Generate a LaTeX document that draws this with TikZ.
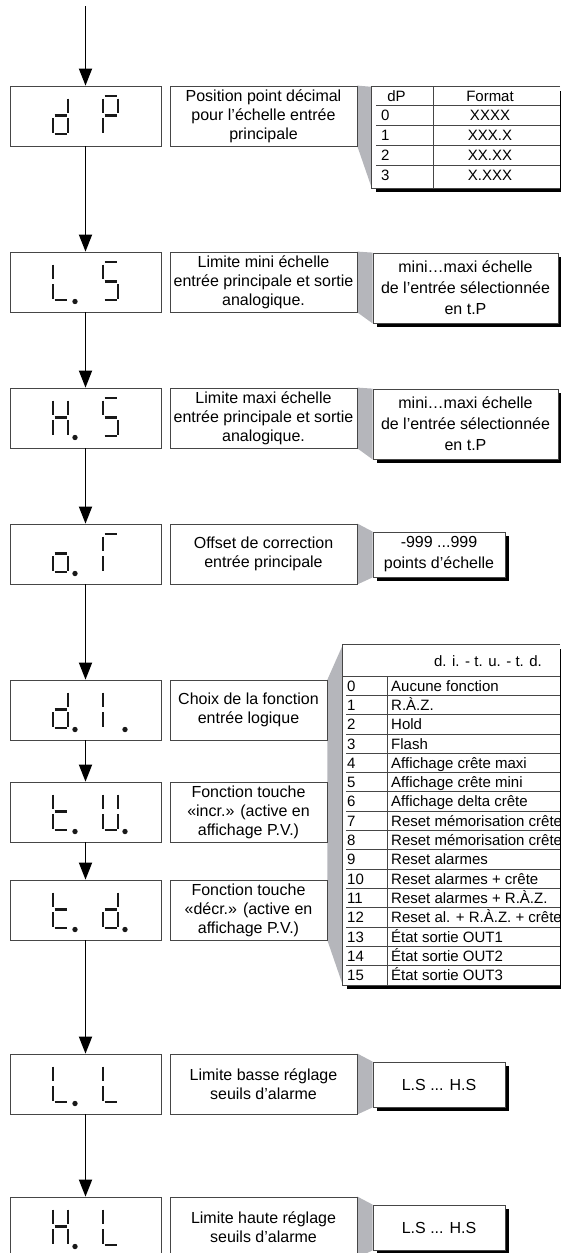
\documentclass[tikz,border=0pt]{standalone}
\usepackage{fontspec}
\setmainfont{Liberation Sans}
\usetikzlibrary{arrows.meta}
\pgfdeclarelayer{bg}
\pgfsetlayers{bg,main}
\definecolor{wedgegray}{RGB}{181,182,187}
\definecolor{framecol}{RGB}{70,70,70}
\definecolor{segcol}{RGB}{25,25,25}
\tikzset{
  boxline/.style={draw=framecol, line width=0.8pt},
  dispbox/.style={boxline, fill=white, inner sep=0pt, minimum width=151pt, minimum height=60pt},
  descbox/.style={boxline, fill=white, inner sep=0pt, minimum height=60pt, align=center, font=\fontsize{16}{19}\selectfont},
  valbox/.style={boxline, fill=white, inner sep=0pt, align=center, font=\fontsize{16}{21}\selectfont},
  tabframe/.style={fill=white, draw=none, inner sep=0pt},
  wedge/.style={fill=wedgegray, draw=none},
  shade/.style={fill=black, draw=none},
  flow/.style={line width=1.8pt, draw=black, -{Triangle[length=17pt,width=13pt]}},
  segline/.style={draw=segcol, line width=2.2pt},
  segdot/.style={fill=segcol},
  tabtext/.style={font=\fontsize{15}{17}\selectfont, inner sep=0pt, text=black},
  tabline/.style={draw=framecol, line width=0.8pt},
}
\newcommand\sgA{\draw[segline] (1.5,10)--(13.5,10);}
\newcommand\sgB{\draw[segline] (15,12.5)--(15,27);}
\newcommand\sgC{\draw[segline] (15,32)--(15,46.5);}
\newcommand\sgD{\draw[segline] (1.5,48)--(13.5,48);}
\newcommand\sgE{\draw[segline] (0,32)--(0,46.5);}
\newcommand\sgF{\draw[segline] (0,12.5)--(0,27);}
\newcommand\sgG{\draw[segline] (1.5,29.5)--(13.5,29.5);}
\newcommand\sgP{\fill[segdot] (22,49.5) circle[radius=2.7pt];}
\newcommand\glyph[3]{\begin{scope}[shift={(#1,#2)}]#3\end{scope}}
\begin{document}
\begin{tikzpicture}[x=1pt,y=-1pt]
\useasboundingbox (0,0) rectangle (560,1253);
\clip (0,0) rectangle (560,1253);

% display boxes
\node[dispbox] (dp) at (85.5,116) {};
\node[dispbox] (ls) at (85.5,282) {};
\node[dispbox] (hs) at (85.5,418) {};
\node[dispbox] (of) at (85.5,554) {};
\node[dispbox] (di) at (85.5,710) {};
\node[dispbox] (tu) at (85.5,812) {};
\node[dispbox] (td) at (85.5,910) {};
\node[dispbox] (ll) at (85.5,1084) {};
\node[dispbox] (hl) at (85.5,1227) {};

% seven-segment texts
\glyph{53}{86}{\sgB\sgC\sgD\sgE\sgG}
\glyph{103}{86}{\sgA\sgB\sgF\sgG\sgE}
\glyph{53}{252}{\sgF\sgE\sgD\sgP}
\glyph{103}{252}{\sgA\sgF\sgG\sgC\sgD}
\glyph{53}{388}{\sgF\sgB\sgG\sgE\sgC\sgP}
\glyph{103}{388}{\sgA\sgF\sgG\sgC\sgD}
\glyph{53}{524}{\sgG\sgC\sgD\sgE\sgP}
\glyph{103}{524}{\sgA\sgF\sgE}
\glyph{53}{680}{\sgB\sgC\sgD\sgE\sgG\sgP}
\glyph{103}{680}{\sgF\sgE\sgP}
\glyph{53}{782}{\sgF\sgE\sgG\sgD\sgP}
\glyph{103}{782}{\sgF\sgB\sgE\sgC\sgD\sgP}
\glyph{53}{880}{\sgF\sgE\sgG\sgD\sgP}
\glyph{103}{880}{\sgB\sgC\sgD\sgE\sgG\sgP}
\glyph{53}{1054}{\sgF\sgE\sgD\sgP}
\glyph{103}{1054}{\sgF\sgE\sgD}
\glyph{53}{1197}{\sgF\sgB\sgG\sgE\sgC\sgP}
\glyph{103}{1197}{\sgF\sgE\sgD}

% description boxes
\node[descbox, minimum width=187pt] (dpD) at (263.5,116) {Position point décimal\\pour l’échelle entrée\\principale};
\node[descbox, minimum width=187pt] (lsD) at (263.5,282) {Limite mini échelle\\entrée principale et sortie\\analogique.};
\node[descbox, minimum width=187pt] (hsD) at (263.5,418) {Limite maxi échelle\\entrée principale et sortie\\analogique.};
\node[descbox, minimum width=187pt] (ofD) at (263.5,554) {Offset de correction\\entrée principale};
\node[descbox, minimum width=157pt] (diD) at (248.5,710) {Choix de la fonction\\entrée logique};
\node[descbox, minimum width=157pt] (tuD) at (248.5,812) {Fonction touche\\«incr.» (active en\\affichage P.V.)};
\node[descbox, minimum width=157pt] (tdD) at (248.5,910) {Fonction touche\\«décr.» (active en\\affichage P.V.)};
\node[descbox, minimum width=187pt] (llD) at (263.5,1084) {Limite basse réglage\\seuils d’alarme};
\node[descbox, minimum width=187pt] (hlD) at (263.5,1227) {Limite haute réglage\\seuils d’alarme};

% value boxes
\node[valbox, minimum width=185pt, minimum height=70pt] (lsV) at (465.5,288) {mini…maxi échelle\\de l’entrée sélectionnée\\en t.P};
\node[valbox, minimum width=185pt, minimum height=70pt] (hsV) at (465.5,424) {mini…maxi échelle\\de l’entrée sélectionnée\\en t.P};
\node[valbox, minimum width=132pt, minimum height=45pt] (ofV) at (439,554.5) {-999 ...999\\points d’échelle};
\node[valbox, minimum width=132pt, minimum height=45pt] (llV) at (439,1084.5) {L.S ... H.S};
\node[valbox, minimum width=132pt, minimum height=45pt] (hlV) at (439,1227.5) {L.S ... H.S};

% dP table
\node[tabframe, minimum width=188pt, minimum height=101pt] (dpT) at (466,137.5) {};
\draw[tabline] (dpT.north east) -- (dpT.north west) -- (dpT.south west) -- (dpT.south east);
\draw[tabline] (433,87) -- (433,188);
\foreach \yy in {105,125,145,165} \draw[tabline] (376,\yy) -- (560,\yy);
\node[tabtext, anchor=base] (dpH1) at (396.5,101.5) {dP};
\node[tabtext, anchor=base] (dpH2) at (490,101.5) {Format};
\foreach \v/\f [count=\k from 0] in {0/XXXX,1/XXX.X,2/XX.XX,3/X.XXX} {
  \node[tabtext, anchor=base west] (dpN\k) at (381,{115+20*\k+5.5}) {\v};
  \node[tabtext, anchor=base] (dpF\k) at (490,{115+20*\k+5.5}) {\f};
}

% function table
\node[tabframe, minimum width=217pt, minimum height=340pt] (bigT) at (451.5,815) {};
\draw[tabline] (bigT.north east) -- (bigT.north west) -- (bigT.south west) -- (bigT.south east);
\draw[tabline] (343,676) -- (560,676);
\draw[tabline] (387,676) -- (387,985);
\foreach \k in {1,...,15} \draw[tabline] (346,{676+19.3*\k}) -- (560,{676+19.3*\k});
\node[tabtext] (bigH) at (488,661) {d. i. - t. u. - t. d.};
\foreach \t [count=\k from 0] in {Aucune fonction,R.À.Z.,Hold,Flash,Affichage crête maxi,Affichage crête mini,Affichage delta crête,Reset mémorisation crête,Reset mémorisation crête,Reset alarmes,Reset alarmes + crête,Reset alarmes + R.À.Z.,Reset al. + R.À.Z. + crête,État sortie OUT1,État sortie OUT2,État sortie OUT3} {
  \node[tabtext, anchor=base west] (bN\k) at (347,{676+19.3*\k+9.65+5.5}) {\k};
  \node[tabtext, anchor=base west] (bL\k) at (391,{676+19.3*\k+9.65+5.5}) {\t};
}

% wedges and shadows
\begin{pgfonlayer}{bg}
\fill[wedge] (dpD.north east) -- (dpT.north west) -- (dpT.south west) -- (dpD.south east) -- cycle;
\fill[wedge] (lsD.north east) -- (lsV.north west) -- (lsV.south west) -- (lsD.south east) -- cycle;
\fill[wedge] (hsD.north east) -- (hsV.north west) -- (hsV.south west) -- (hsD.south east) -- cycle;
\fill[wedge] (ofD.north east) -- (ofV.north west) -- (ofV.south west) -- (ofD.south east) -- cycle;
\fill[wedge] (diD.north east) -- (bigT.north west) -- (bigT.south west) -- (tdD.south east) -- cycle;
\fill[wedge] (llD.north east) -- (llV.north west) -- (llV.south west) -- (llD.south east) -- cycle;
\fill[wedge] (hlD.north east) -- (hlV.north west) -- (hlV.south west) -- (hlD.south east) -- cycle;
\foreach \b in {dpT,lsV,hsV,ofV,bigT,llV,hlV}
  \fill[shade] ([shift={(4,4)}]\b.north west) rectangle ([shift={(4,4)}]\b.south east);
\end{pgfonlayer}

% flow arrows
\coordinate (start) at (85.5,6);
\draw[flow] (start) -- (dp.north);
\draw[flow] (dp.south) -- (ls.north);
\draw[flow] (ls.south) -- (hs.north);
\draw[flow] (hs.south) -- (of.north);
\draw[flow] (of.south) -- (di.north);
\draw[flow] (di.south) -- (tu.north);
\draw[flow] (tu.south) -- (td.north);
\draw[flow] (td.south) -- (ll.north);
\draw[flow] (ll.south) -- (hl.north);
\end{tikzpicture}
\end{document}
